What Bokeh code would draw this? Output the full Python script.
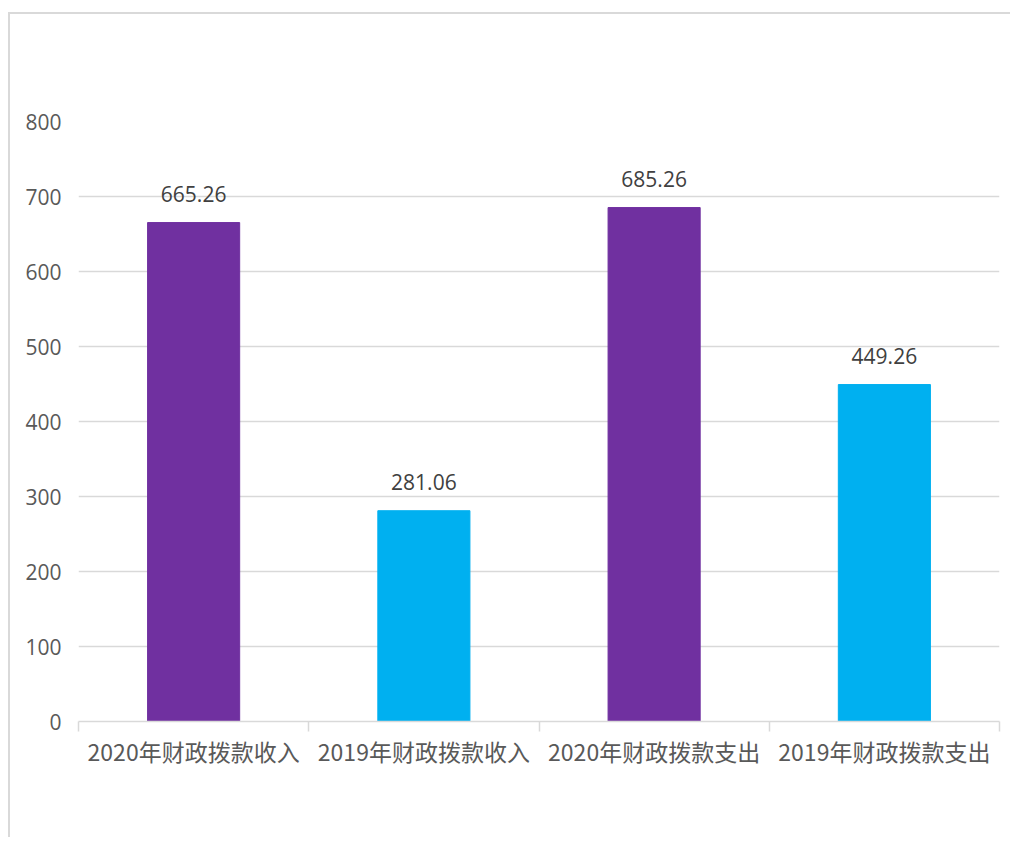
from bokeh.plotting import figure
from bokeh.models import ColumnDataSource, FixedTicker, Range1d, LabelSet
from bokeh.core.properties import value
from bokeh.embed import file_html
from bokeh.resources import INLINE

categories = ["2020年财政拨款收入", "2019年财政拨款收入", "2020年财政拨款支出", "2019年财政拨款支出"]
values = [665.26, 281.06, 685.26, 449.26]
colors = ["#7030A0", "#00B0F0", "#7030A0", "#00B0F0"]
y_ticks = [0, 100, 200, 300, 400, 500, 600, 700, 800]

xpos = [i + 0.5 for i in range(len(categories))]
labels = [f"{v:.2f}" for v in values]
src = ColumnDataSource(dict(x=xpos, top=values, color=colors, label=labels))

p = figure(width=1002, height=825, output_backend="svg", toolbar_location=None,
           x_range=Range1d(0, len(categories)), y_range=Range1d(0, 800),
           min_border_left=68, min_border_right=13, min_border_top=107, min_border_bottom=118)
p.styles = {"border-left": "2px solid #d9d9d9", "border-top": "2px solid #d9d9d9",
            "margin-top": "12px", "margin-left": "8px"}
p.outline_line_color = None
p.background_fill_color = "white"
p.border_fill_color = "white"

p.vbar(x="x", top="top", width=0.4, color="color", source=src)

p.add_layout(LabelSet(x="x", y="top", text="label", source=src, text_align="center",
                      text_baseline="alphabetic", y_offset=21, text_font_size="21px",
                      text_color="#404040", text_font=value("Open Sans")))

# x axis
p.xaxis.ticker = FixedTicker(ticks=xpos, minor_ticks=list(range(len(categories) + 1)))
p.xaxis.major_label_overrides = {x: c for x, c in zip(xpos, categories)}
p.xaxis.major_tick_line_color = None
p.xaxis.major_tick_out = 0
p.xaxis.major_tick_in = 0
p.xaxis.minor_tick_line_color = "#d9d9d9"
p.xaxis.minor_tick_line_width = 1.5
p.xaxis.minor_tick_out = 10
p.xaxis.minor_tick_in = 0
p.xaxis.axis_line_color = "#d9d9d9"
p.xaxis.axis_line_width = 1.5
p.xaxis.major_label_text_font = "Noto Sans CJK SC"
p.xaxis.major_label_text_font_size = "23px"
p.xaxis.major_label_text_color = "#595959"
p.xaxis.major_label_standoff = 2

# y axis
p.yaxis.ticker = FixedTicker(ticks=y_ticks)
p.yaxis.axis_line_color = None
p.yaxis.major_tick_line_color = None
p.yaxis.major_tick_out = 0
p.yaxis.major_tick_in = 0
p.yaxis.minor_tick_line_color = None
p.yaxis.major_label_text_font = "Open Sans"
p.yaxis.major_label_text_font_size = "21px"
p.yaxis.major_label_text_color = "#595959"
p.yaxis.major_label_standoff = 17

p.xgrid.grid_line_color = None
p.ygrid.grid_line_color = "#d9d9d9"
p.ygrid.grid_line_width = 1.5

open("out.html", "w").write(file_html(p, INLINE))
